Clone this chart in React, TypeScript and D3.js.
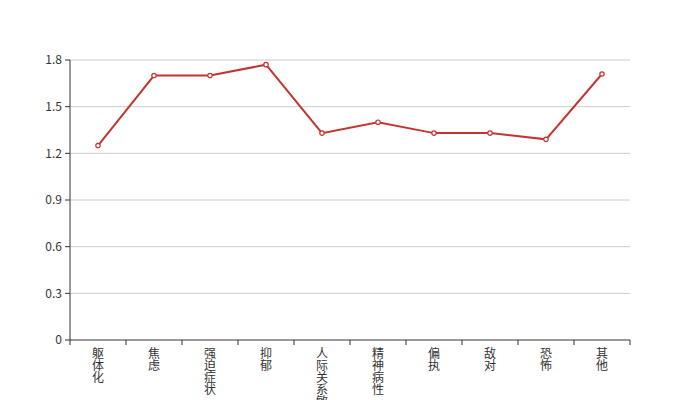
import React from "react";
import * as d3 from "d3";

const categories = ["躯体化", "焦虑", "强迫症状", "抑郁", "人际关系敏感", "精神病性", "偏执", "敌对", "恐怖", "其他"];
const values = [1.25, 1.7, 1.7, 1.77, 1.33, 1.4, 1.33, 1.33, 1.29, 1.71];
const yTicks = [0, 0.3, 0.6, 0.9, 1.2, 1.5, 1.8];

export default function App() {
  const W = 700, H = 400;
  const left = 70, right = 630, top = 60, bottom = 340;
  const x = d3.scaleBand<string>().domain(categories).range([left, right]);
  const y = d3.scaleLinear().domain([0, 1.8]).range([bottom, top]);
  const line = d3.line<number>()
    .x((_, i) => (x(categories[i]) as number) + x.bandwidth() / 2)
    .y((d) => y(d));
  const font = "'Noto Sans CJK SC', 'Noto Sans', sans-serif";
  const bounds = [...categories.map((c) => x(c) as number), right];
  return (
    <svg width={W} height={H} style={{ position: "absolute", left: 0, top: 0 }} fontFamily={font}>
      <rect width={W} height={H} fill="#fff" />
      {yTicks.map((t) => (
        <g key={t}>
          {t > 0 && <line x1={left} x2={right} y1={y(t)} y2={y(t)} stroke="#ccc" strokeWidth={1} />}
          <line x1={left - 5} x2={left} y1={y(t)} y2={y(t)} stroke="#333" strokeWidth={1} />
          <text x={left - 8} y={y(t)} dy="0.35em" textAnchor="end" fontSize={12} fill="#333">{t}</text>
        </g>
      ))}
      <line x1={left} x2={left} y1={top} y2={bottom} stroke="#333" strokeWidth={1} />
      <line x1={left} x2={right} y1={bottom} y2={bottom} stroke="#333" strokeWidth={1} />
      {bounds.map((b, i) => (
        <line key={i} x1={b} x2={b} y1={bottom} y2={bottom + 5} stroke="#333" strokeWidth={1} />
      ))}
      {categories.map((c) => {
        const cx = (x(c) as number) + x.bandwidth() / 2;
        return (
          <text key={c} x={cx} y={352} textAnchor="middle" fontSize={12} fill="#333" dominantBaseline="central">
            {c.split("").map((ch, i) => (
              <tspan key={i} x={cx} dy={i === 0 ? 0 : 12}>{ch}</tspan>
            ))}
          </text>
        );
      })}
      <path d={line(values) || ""} fill="none" stroke="#c23531" strokeWidth={2} />
      {values.map((v, i) => (
        <circle key={i} cx={(x(categories[i]) as number) + x.bandwidth() / 2} cy={y(v)} r={2.2} fill="#fff" stroke="#c23531" strokeWidth={1.2} />
      ))}
    </svg>
  );
}
